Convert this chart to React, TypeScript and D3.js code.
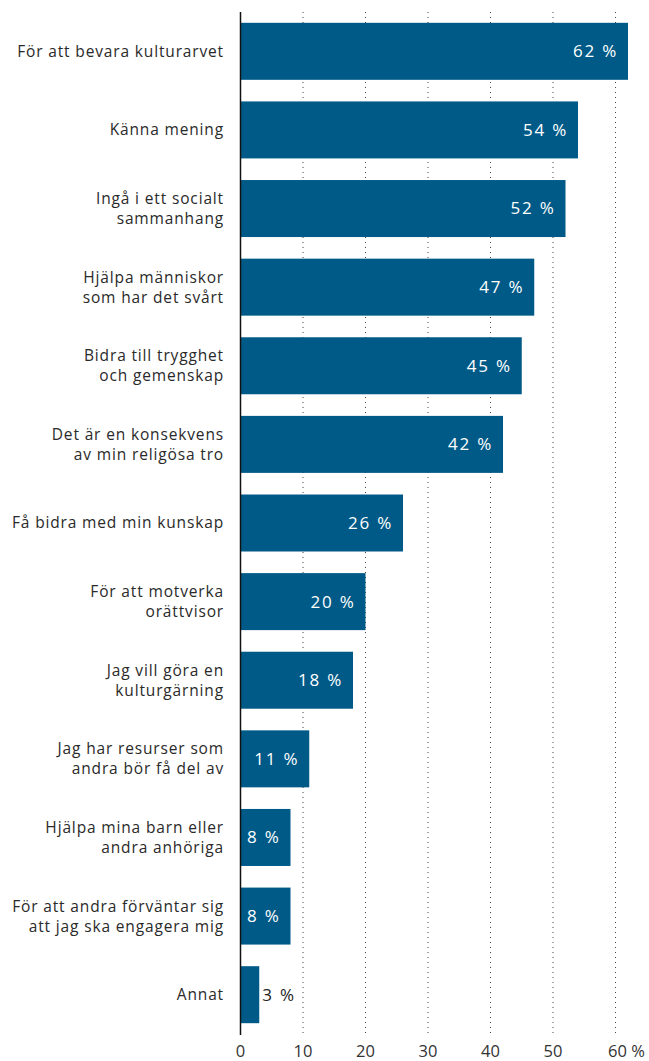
import React from "react";
import * as d3 from "d3";

const categories: string[][] = [
  ["För att bevara kulturarvet"],
  ["Känna mening"],
  ["Ingå i ett socialt", "sammanhang"],
  ["Hjälpa människor", "som har det svårt"],
  ["Bidra till trygghet", "och gemenskap"],
  ["Det är en konsekvens", "av min religösa tro"],
  ["Få bidra med min kunskap"],
  ["För att motverka", "orättvisor"],
  ["Jag vill göra en", "kulturgärning"],
  ["Jag har resurser som", "andra bör få del av"],
  ["Hjälpa mina barn eller", "andra anhöriga"],
  ["För att andra förväntar sig", "att jag ska engagera mig"],
  ["Annat"],
];
const values: number[] = [62, 54, 52, 47, 45, 42, 26, 20, 18, 11, 8, 8, 3];
const ticks: number[] = [0, 10, 20, 30, 40, 50, 60];

const W = 649;
const H = 1061;
const FONT = "'Open Sans', 'Noto Sans', sans-serif";
const BAR = "#005a87";
const LH = 20;

export default function App() {
  const x = d3.scaleLinear().domain([0, 60]).range([240.5, 615.5]);
  const ids = categories.map((_, i) => String(i));
  const y = d3
    .scaleBand<string>()
    .domain(ids)
    .range([12, 1034])
    .paddingInner(0.275)
    .paddingOuter(0.1375);

  return (
    <svg
      width={W}
      height={H}
      style={{ position: "absolute", left: 0, top: 0, background: "#fff" }}
      fontFamily={FONT}
    >
      {ticks.slice(1).map((t) => (
        <line
          key={"g" + t}
          x1={x(t)}
          x2={x(t)}
          y1={12}
          y2={1034}
          stroke="#444"
          strokeWidth={1}
          strokeDasharray="1,4"
        />
      ))}
      {values.map((v, i) => {
        const yy = y(String(i))!;
        const bw = y.bandwidth();
        const inside = v >= 5;
        return (
          <g key={"b" + i}>
            <rect x={x(0)} y={yy} width={x(v) - x(0)} height={bw} fill={BAR} />
            <text
              x={inside ? x(v) - 10 : x(v) + 3}
              y={yy + bw / 2}
              dy="0.35em"
              textAnchor={inside ? "end" : "start"}
              fill={inside ? "#fff" : "#222"}
              fontSize={17}
              letterSpacing={1.8}
            >
              {v + " %"}
            </text>
            <text
              x={224}
              y={yy + bw / 2 - ((categories[i].length - 1) * LH) / 2}
              textAnchor="end"
              fill="#2a2a2a"
              fontSize={15.5}
              letterSpacing={0.85}
            >
              {categories[i].map((line, j) => (
                <tspan key={j} x={224} dy={j === 0 ? "0.35em" : LH}>
                  {line}
                </tspan>
              ))}
            </text>
          </g>
        );
      })}
      <line x1={x(0)} x2={x(0)} y1={12} y2={1035} stroke="#111" strokeWidth={1.5} />
      {ticks.map((t) => (
        <text
          key={"t" + t}
          x={t === 60 ? x(t) + 11 : x(t)}
          y={1057}
          textAnchor="middle"
          fill="#333"
          fontSize={16.5}
        >
          {t === 60 ? "60 %" : String(t)}
        </text>
      ))}
    </svg>
  );
}
